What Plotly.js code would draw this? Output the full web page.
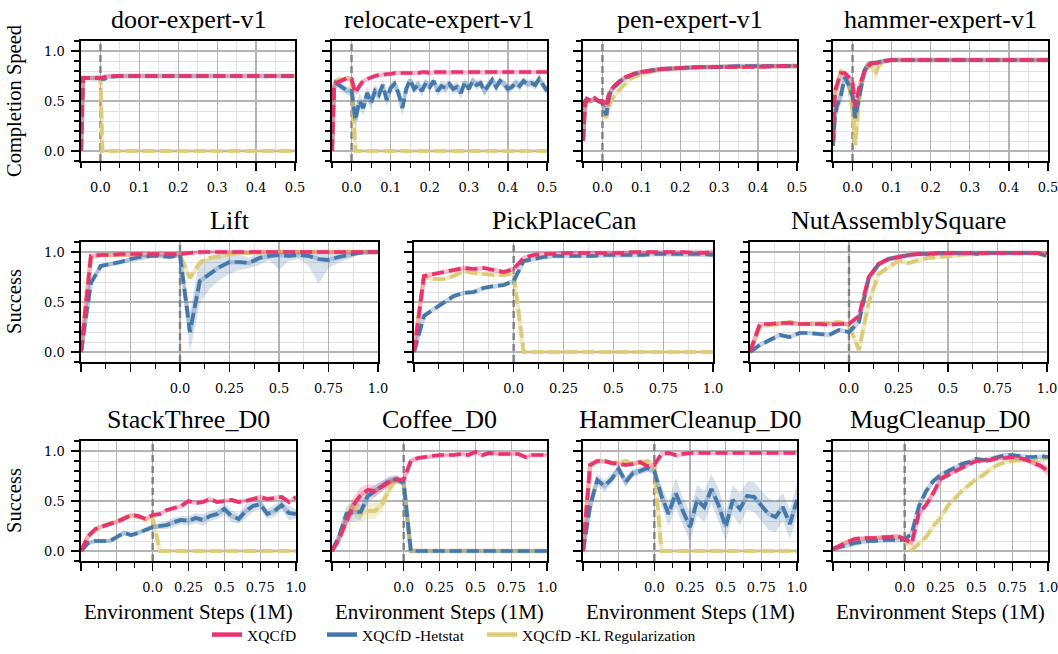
<!DOCTYPE html>
<html><head><meta charset="utf-8">
<script src="https://cdn.plot.ly/plotly-3.0.1.min.js"></script>
<style>html,body{margin:0;padding:0;background:#fff}#chart{width:1058px;height:654px}</style>
</head><body><div id="chart"></div>
<script>
// ---------------- DATA ----------------
const seriesNames = ['XQCfD', 'XQCfD -Hetstat', 'XQCfD -KL Regularization'];

// Top row (Adroit) x values, in 1M environment steps
const xDoor = [-0.05,-0.045,-0.03,-0.01,0,0.005,0.01,0.02,0.05,0.1,0.2,0.3,0.4,0.5];
const doorXQ  = [0,0.73,0.73,0.73,0.73,0.73,0.74,0.75,0.75,0.75,0.75,0.75,0.75,0.75];
const doorHet = [0,0.73,0.73,0.73,0.73,0.72,0.72,0.74,0.75,0.75,0.75,0.75,0.75,0.75];
const doorKL  = [0,0.73,0.73,0.73,0.73,0,0,0,0,0,0,0,0,0];

const xReloc = [-0.05,-0.045,-0.04,-0.03,-0.02,-0.01,0,
  0.01,0.02,0.03,0.04,0.05,0.06,0.07,0.08,0.09,0.10,
  0.11,0.12,0.13,0.14,0.15,0.16,0.17,0.18,0.19,0.20,
  0.21,0.22,0.23,0.24,0.25,0.26,0.27,0.28,0.29,0.30,
  0.31,0.32,0.33,0.34,0.35,0.36,0.37,0.38,0.39,0.40,
  0.41,0.42,0.43,0.44,0.45,0.46,0.47,0.48,0.49,0.50];
const relocXQ = [0,0.65,0.68,0.70,0.72,0.73,0.72,
  0.58,0.65,0.70,0.72,0.74,0.75,0.76,0.76,0.77,0.77,
  0.78,0.78,0.78,0.78,0.78,0.78,0.78,0.79,0.79,0.78,
  0.79,0.79,0.79,0.79,0.79,0.79,0.79,0.79,0.79,0.79,
  0.79,0.79,0.79,0.79,0.79,0.79,0.79,0.79,0.79,0.79,
  0.79,0.79,0.79,0.79,0.79,0.79,0.79,0.79,0.79,0.79];
const relocHet = [0,0.62,0.68,0.65,0.62,0.60,0.60,
  0.31,0.50,0.43,0.58,0.48,0.60,0.56,0.66,0.51,0.63,
  0.67,0.58,0.43,0.62,0.71,0.62,0.66,0.60,0.68,0.64,
  0.70,0.60,0.65,0.63,0.67,0.62,0.64,0.58,0.69,0.62,
  0.70,0.66,0.68,0.60,0.66,0.71,0.64,0.70,0.67,0.62,
  0.64,0.68,0.65,0.70,0.67,0.68,0.66,0.72,0.66,0.60];
const relocHetStd = [0,0.05,0.04,0.04,0.04,0.04,0.05,
  0.12,0.08,0.08,0.07,0.07,0.06,0.06,0.05,0.07,0.05,
  0.05,0.06,0.08,0.06,0.04,0.05,0.05,0.06,0.04,0.05,
  0.04,0.06,0.05,0.05,0.04,0.05,0.05,0.06,0.04,0.05,
  0.04,0.05,0.04,0.05,0.05,0.04,0.05,0.04,0.04,0.05,
  0.04,0.04,0.05,0.04,0.04,0.04,0.05,0.04,0.04,0.05];
const relocKL = [0,0.65,0.70,0.72,0.72,0.73,0.72,
  0,0,0,0,0,0,0,0,0,0, 0,0,0,0,0,0,0,0,0,0,
  0,0,0,0,0,0,0,0,0,0, 0,0,0,0,0,0,0,0,0,0, 0,0,0,0,0,0,0,0,0,0];

const xPen = [-0.05,-0.045,-0.04,-0.03,-0.02,-0.01,0,0.005,0.01,0.015,0.02,0.03,0.04,0.05,0.06,0.07,0.08,0.1,0.12,0.15,0.2,0.25,0.3,0.35,0.4,0.45,0.5];
const penXQ  = [0.1,0.45,0.52,0.50,0.53,0.50,0.50,0.47,0.45,0.55,0.60,0.65,0.69,0.72,0.74,0.76,0.77,0.79,0.80,0.82,0.83,0.84,0.84,0.84,0.84,0.85,0.85];
const penHet = [0.1,0.50,0.52,0.50,0.52,0.50,0.48,0.40,0.36,0.50,0.58,0.64,0.68,0.71,0.73,0.75,0.77,0.79,0.80,0.82,0.83,0.84,0.84,0.85,0.85,0.85,0.85];
const penKL  = [0.1,0.45,0.50,0.50,0.52,0.50,0.48,0.42,0.33,0.42,0.48,0.55,0.60,0.64,0.68,0.72,0.74,0.77,0.79,0.81,0.83,0.84,0.84,0.84,0.85,0.85,0.85];

const xHam = [-0.05,-0.045,-0.04,-0.03,-0.02,-0.01,0,0.007,0.015,0.02,0.03,0.04,0.05,0.06,0.07,0.08,0.1,0.15,0.2,0.3,0.4,0.5];
const hamXQ  = [0.1,0.60,0.66,0.78,0.78,0.74,0.68,0.44,0.60,0.68,0.79,0.85,0.88,0.88,0.89,0.90,0.91,0.91,0.91,0.91,0.91,0.91];
const hamHet = [0.05,0.35,0.45,0.55,0.74,0.66,0.55,0.33,0.50,0.60,0.80,0.87,0.88,0.88,0.89,0.90,0.91,0.91,0.91,0.91,0.91,0.91];
const hamHetStd = [0,0.1,0.1,0.08,0.05,0.06,0.08,0.08,0.1,0.08,0.05,0.03,0.02,0.02,0.02,0.01,0.01,0.01,0.01,0.01,0.01,0.01];
const hamKL  = [0.1,0.55,0.62,0.79,0.76,0.70,0.41,0.06,0.45,0.62,0.78,0.86,0.84,0.79,0.87,0.89,0.91,0.91,0.91,0.91,0.91,0.91];
const hamKLStd = [0,0.1,0.08,0.05,0.05,0.06,0.1,0.05,0.12,0.1,0.06,0.04,0.05,0.1,0.03,0.02,0.01,0.01,0.01,0.01,0.01,0.01];

// Robomimic rows: offline (-0.5..0) then online (0..1.0)
const xRobo = [-0.5,-0.45,-0.4,-0.35,-0.3,-0.25,-0.2,-0.15,-0.1,-0.05,0,
  0.05,0.1,0.15,0.2,0.25,0.3,0.35,0.4,0.45,0.5,
  0.55,0.6,0.65,0.7,0.75,0.8,0.85,0.9,0.95,1.0];

const liftXQ  = [0,0.96,0.97,0.97,0.98,0.98,0.98,0.98,0.98,0.98,0.98, 0.99,1,1,1,1,1,1,1,1,1, 1,1,1,1,1,1,1,1,1,1];
const liftHet = [0,0.69,0.86,0.88,0.90,0.93,0.95,0.96,0.96,0.95,0.97, 0.20,0.71,0.78,0.85,0.90,0.90,0.89,0.94,0.96,0.97, 0.96,0.97,0.96,0.93,0.92,0.95,0.97,0.99,1,1];
const liftHetStd = [0,0.03,0.02,0.02,0.02,0.02,0.01,0.01,0.01,0.01,0.01, 0.2,0.22,0.15,0.13,0.12,0.08,0.05,0.07,0.04,0.15, 0.05,0.04,0.1,0.25,0.08,0.06,0.04,0.02,0.01,0];
const liftKL  = [0,0.95,0.97,0.97,0.97,0.98,0.98,0.97,0.98,0.97,0.97, 0.74,0.89,0.94,0.96,0.98,0.99,0.99,1,1,1, 1,1,1,1,1,1,1,1,1,1];

const ppcXQ  = [0,0.76,0.78,0.80,0.82,0.84,0.83,0.84,0.82,0.80,0.83, 0.94,0.97,0.98,0.98,0.99,0.99,0.99,0.99,0.99,0.99, 0.99,1,1,1,1,1,1,0.99,0.99,1];
const ppcHet = [0,0.36,0.43,0.50,0.56,0.59,0.60,0.64,0.66,0.67,0.71, 0.91,0.93,0.95,0.96,0.96,0.96,0.96,0.96,0.97,0.97, 0.97,0.97,0.97,0.98,0.98,0.98,0.98,0.98,0.98,0.97];
const ppcKL  = [0,0.75,0.73,0.73,0.76,0.81,0.79,0.78,0.77,0.77,0.79, 0,0,0,0,0,0,0,0,0,0, 0,0,0,0,0,0,0,0,0,0];

const nutXQ  = [0,0.28,0.28,0.29,0.29,0.28,0.28,0.28,0.27,0.28,0.28, 0.36,0.75,0.88,0.93,0.95,0.97,0.98,0.98,0.99,0.99, 0.99,0.99,0.99,0.99,0.99,0.99,0.99,0.99,0.99,0.99];
const nutHet = [0,0.07,0.12,0.17,0.15,0.19,0.19,0.18,0.17,0.22,0.20, 0.30,0.74,0.88,0.93,0.95,0.97,0.98,0.98,0.99,0.99, 0.99,0.99,0.98,0.99,0.99,0.99,0.99,0.99,0.99,0.96];
const nutKL  = [0,0.25,0.27,0.28,0.30,0.28,0.28,0.29,0.29,0.30,0.27, 0.02,0.50,0.78,0.85,0.91,0.89,0.92,0.94,0.95,0.96, 0.97,0.98,0.98,0.99,0.99,0.99,0.99,0.99,0.99,0.99];

const stXQ  = [0,0.15,0.22,0.25,0.27,0.29,0.33,0.36,0.35,0.32,0.36, 0.37,0.41,0.43,0.45,0.50,0.48,0.49,0.52,0.49,0.50, 0.51,0.49,0.50,0.52,0.54,0.52,0.53,0.54,0.49,0.54];
const stHet = [0,0.08,0.10,0.10,0.10,0.14,0.18,0.16,0.18,0.21,0.24, 0.25,0.26,0.29,0.31,0.30,0.33,0.31,0.35,0.37,0.42, 0.35,0.32,0.40,0.45,0.47,0.37,0.40,0.46,0.38,0.37];
const stHetStd = [0,0.01,0.02,0.02,0.02,0.02,0.02,0.02,0.02,0.02,0.02, 0.03,0.04,0.05,0.04,0.05,0.05,0.06,0.05,0.05,0.06, 0.06,0.05,0.07,0.06,0.05,0.05,0.06,0.05,0.07,0.05];
const stKL  = [0,0.14,0.21,0.25,0.27,0.30,0.33,0.35,0.34,0.32,0.33, 0,0,0,0,0,0,0,0,0,0, 0,0,0,0,0,0,0,0,0,0];

const cofXQ  = [0,0.12,0.30,0.46,0.56,0.61,0.60,0.65,0.69,0.71,0.71, 0.90,0.93,0.94,0.95,0.96,0.96,0.96,0.97,0.96,0.99, 0.96,0.98,0.97,0.97,0.97,0.97,0.94,0.96,0.96,0.96];
const cofXQStd = [0,0.03,0.06,0.08,0.08,0.06,0.06,0.05,0.05,0.04,0.03, 0.02,0.01,0.01,0.01,0.01,0.01,0.01,0.01,0.01,0.01, 0.01,0.01,0.01,0.01,0.01,0.01,0.01,0.01,0.01,0.01];
const cofHet = [0,0.15,0.37,0.39,0.39,0.55,0.60,0.65,0.70,0.72,0.68, 0,0,0,0,0,0,0,0,0,0, 0,0,0,0,0,0,0,0,0,0];
const cofHetStd = [0,0.04,0.08,0.1,0.08,0.07,0.06,0.05,0.05,0.04,0.03, 0,0,0,0,0,0,0,0,0,0, 0,0,0,0,0,0,0,0,0,0];
const cofKL  = [0,0.12,0.33,0.45,0.37,0.40,0.40,0.47,0.62,0.72,0.68, 0,0,0,0,0,0,0,0,0,0, 0,0,0,0,0,0,0,0,0,0];
const cofKLStd = [0,0.03,0.07,0.09,0.08,0.08,0.08,0.07,0.06,0.04,0.03, 0,0,0,0,0,0,0,0,0,0, 0,0,0,0,0,0,0,0,0,0];

const hcXQ  = [0,0.86,0.90,0.90,0.88,0.87,0.86,0.87,0.89,0.85,0.86, 0.97,0.98,0.96,0.97,0.98,0.98,0.98,0.98,0.98,0.98, 0.98,0.98,0.98,0.98,0.98,0.98,0.98,0.98,0.98,0.98];
const hcHet = [0,0.45,0.71,0.65,0.72,0.82,0.69,0.78,0.80,0.83,0.80, 0.55,0.37,0.58,0.40,0.24,0.51,0.44,0.62,0.46,0.24, 0.51,0.42,0.55,0.54,0.45,0.37,0.34,0.44,0.27,0.51];
const hcHetStd = [0,0.1,0.06,0.06,0.05,0.05,0.05,0.04,0.04,0.04,0.04, 0.1,0.12,0.15,0.14,0.15,0.15,0.16,0.15,0.16,0.15, 0.15,0.16,0.14,0.15,0.15,0.16,0.15,0.14,0.15,0.16];
const hcKL  = [0,0.85,0.90,0.90,0.88,0.89,0.90,0.87,0.88,0.90,0.86, 0,0,0,0,0,0,0,0,0,0, 0,0,0,0,0,0,0,0,0,0];

const mugXQ  = [0.02,0.06,0.09,0.12,0.13,0.13,0.13,0.14,0.14,0.15,0.12, 0.08,0.38,0.46,0.58,0.72,0.76,0.80,0.83,0.87,0.90, 0.90,0.91,0.93,0.93,0.94,0.93,0.91,0.88,0.85,0.80];
const mugXQStd = [0.01,0.01,0.01,0.01,0.01,0.01,0.01,0.01,0.01,0.01,0.01, 0.02,0.03,0.03,0.03,0.03,0.02,0.02,0.02,0.02,0.02, 0.02,0.02,0.02,0.02,0.02,0.02,0.02,0.03,0.04,0.06];
const mugHet = [0.02,0.04,0.06,0.08,0.09,0.10,0.10,0.11,0.11,0.11,0.11, 0.18,0.45,0.60,0.70,0.76,0.80,0.84,0.87,0.89,0.92, 0.91,0.92,0.94,0.96,0.96,0.95,0.94,0.94,0.95,0.94];
const mugKL  = [0.02,0.06,0.09,0.11,0.12,0.13,0.13,0.13,0.13,0.14,0.11, 0.01,0.08,0.14,0.25,0.33,0.45,0.53,0.60,0.66,0.72, 0.76,0.82,0.86,0.89,0.90,0.91,0.91,0.90,0.92,0.93];

// Tick labels
const topTickVals = [0,0.1,0.2,0.3,0.4,0.5];
const topTickText = ['0.0','0.1','0.2','0.3','0.4','0.5'];
const roboTickVals = [-0.5,-0.25,0,0.25,0.5,0.75,1.0];
const roboTickText = ['','','0.0','0.25','0.5','0.75','1.0'];
const yTickVals = [0,0.5,1.0];
const yTickText = ['0.0','0.5','1.0'];
const switchStep = 0;   // offline -> online switch

// ---------------- LAYOUT / DRAW ----------------
const W = 1058, H = 654;
const COL = {xq:'#E8336D', het:'#4477AA', kl:'#DDCC77'};
const FILL = {xq:'rgba(232,51,109,0.22)', het:'rgba(68,119,170,0.22)', kl:'rgba(221,204,119,0.32)'};
const UNDER = {xq:'rgba(232,51,109,0.30)', het:'rgba(68,119,170,0.30)', kl:'rgba(221,204,119,0.40)'};
const rowsY = [[41,161],[242,362],[441,561]];
const YR = [-0.1, 1.1];

const panels = [
  {title:'door-expert-v1', row:0, px:[81,295], x:xDoor, s:{xq:doorXQ, het:doorHet, kl:doorKL}, sd:{}, ylab:'Completion Speed'},
  {title:'relocate-expert-v1', row:0, px:[332,547], x:xReloc, s:{xq:relocXQ, het:relocHet, kl:relocKL}, sd:{het:relocHetStd}},
  {title:'pen-expert-v1', row:0, px:[583,797], x:xPen, s:{xq:penXQ, het:penHet, kl:penKL}, sd:{}},
  {title:'hammer-expert-v1', row:0, px:[833,1048], x:xHam, s:{xq:hamXQ, het:hamHet, kl:hamKL}, sd:{het:hamHetStd, kl:hamKLStd}},
  {title:'Lift', row:1, px:[81,378], x:xRobo, s:{xq:liftXQ, het:liftHet, kl:liftKL}, sd:{het:liftHetStd}, ylab:'Success'},
  {title:'PickPlaceCan', row:1, px:[414,713], x:xRobo, s:{xq:ppcXQ, het:ppcHet, kl:ppcKL}, sd:{}},
  {title:'NutAssemblySquare', row:1, px:[750,1047], x:xRobo, s:{xq:nutXQ, het:nutHet, kl:nutKL}, sd:{}},
  {title:'StackThree_D0', row:2, px:[81,296], x:xRobo, s:{xq:stXQ, het:stHet, kl:stKL}, sd:{het:stHetStd}, ylab:'Success', xlab:true},
  {title:'Coffee_D0', row:2, px:[332,547], x:xRobo, s:{xq:cofXQ, het:cofHet, kl:cofKL}, sd:{xq:cofXQStd, het:cofHetStd, kl:cofKLStd}, xlab:true},
  {title:'HammerCleanup_D0', row:2, px:[583,797], x:xRobo, s:{xq:hcXQ, het:hcHet, kl:hcKL}, sd:{het:hcHetStd}, xlab:true},
  {title:'MugCleanup_D0', row:2, px:[833,1048], x:xRobo, s:{xq:mugXQ, het:mugHet, kl:mugKL}, sd:{xq:mugXQStd}, xlab:true}
];

const tickFont = {family:'DejaVu Serif', size:13, color:'#000'};
const serif = 'Liberation Serif';
const traces = [], shapes = [], annotations = [];
const layout = {
  width:W, height:H, margin:{l:0,r:0,t:0,b:0},
  paper_bgcolor:'#fff', plot_bgcolor:'#fff',
  font:{family:serif, color:'#000'},
  showlegend:true,
  legend:{orientation:'h', x:207/W, xanchor:'left', y:1-635/H, yanchor:'middle',
          font:{family:serif, size:15.5, color:'#000'}, bgcolor:'rgba(0,0,0,0)', itemwidth:30, tracegroupgap:0},
  shapes, annotations
};

panels.forEach((p, i) => {
  const n = i + 1, sfx = n === 1 ? '' : String(n);
  const xa = 'x' + sfx, ya = 'y' + sfx;
  const top = p.row === 0;
  const [y0, y1] = rowsY[p.row];
  layout['xaxis' + sfx] = {
    domain:[p.px[0]/W, p.px[1]/W], anchor:ya,
    range: top ? [-0.05, 0.5] : [-0.5, 1.0],
    tickmode:'array', tickvals: top ? topTickVals : roboTickVals, ticktext: top ? topTickText : roboTickText,
    ticks:'outside', ticklen:8, tickwidth:1.3, tickcolor:'#000', ticklabelstandoff:6, ticklabeloverflow:'allow',
    tickfont:tickFont,
    showline:true, linecolor:'#000', linewidth:1.6, mirror:true,
    showgrid:true, gridcolor:'#b4b4b4', gridwidth:1.3, zeroline:false,
    minor:{dtick: top ? 0.05 : 0.125, tick0:0, ticks:'outside', ticklen:5, tickwidth:1.1, tickcolor:'#000',
           showgrid:true, gridcolor:'#e2e2e2', gridwidth:1},
    fixedrange:true
  };
  layout['yaxis' + sfx] = {
    domain:[1 - y1/H, 1 - y0/H], anchor:xa,
    range:YR,
    tickmode:'array', tickvals:yTickVals, ticktext:yTickText, showticklabels: !!p.ylab,
    ticks:'outside', ticklen:8, tickwidth:1.3, tickcolor:'#000', ticklabelstandoff:4, ticklabeloverflow:'allow',
    tickfont:tickFont,
    showline:true, linecolor:'#000', linewidth:1.6, mirror:true,
    showgrid:true, gridcolor:'#b4b4b4', gridwidth:1.3, zeroline:false,
    minor:{dtick:0.1, tick0:0, ticks:'outside', ticklen:5, tickwidth:1.1, tickcolor:'#000',
           showgrid:true, gridcolor:'#e2e2e2', gridwidth:1},
    fixedrange:true
  };
  // dashed vertical line at the offline->online switch
  shapes.push({type:'line', xref:xa, yref:ya, x0:switchStep, x1:switchStep, y0:YR[0], y1:YR[1], layer:'between',
               line:{color:'#808080', width:2.4, dash:'7px,4px'}});
  // bands
  ['kl','het','xq'].forEach(k => {
    const sd = p.sd[k];
    if (!sd) return;
    const y = p.s[k];
    const hi = y.map((v, j) => Math.min(1, v + sd[j]));
    const lo = y.map((v, j) => Math.max(0, v - sd[j]));
    traces.push({type:'scatter', mode:'lines', xaxis:xa, yaxis:ya, showlegend:false, hoverinfo:'skip',
      x: p.x.concat(p.x.slice().reverse()), y: hi.concat(lo.slice().reverse()),
      fill:'toself', fillcolor:FILL[k], line:{width:0}});
  });
  // lines
  ['kl','het','xq'].forEach(k => {
    traces.push({type:'scatter', mode:'lines', xaxis:xa, yaxis:ya, showlegend:false, hoverinfo:'skip',
      x:p.x, y:p.s[k], line:{color:UNDER[k], width:4.5}});
    traces.push({type:'scatter', mode:'lines', xaxis:xa, yaxis:ya, showlegend:false, hoverinfo:'skip',
      x:p.x, y:p.s[k], line:{color:COL[k], width:3.7, dash:'12px,5px'}});
  });
  // panel title
  annotations.push({xref:'paper', yref:'paper', x:(p.px[0]+p.px[1])/2/W, y:1 - (y0 - 22)/H,
    xanchor:'center', yanchor:'middle', showarrow:false, text:p.title,
    font:{family:serif, size:26, color:'#000'}});
  if (p.ylab) {
    annotations.push({xref:'paper', yref:'paper', x:14/W, y:1 - (y0 + y1)/2/H, xanchor:'center', yanchor:'middle',
      showarrow:false, textangle:-90, text:p.ylab, font:{family:serif, size:20.5, color:'#000'}});
  }
  if (p.xlab) {
    annotations.push({xref:'paper', yref:'paper', x:(p.px[0]+p.px[1])/2/W, y:1 - 612/H, xanchor:'center', yanchor:'middle',
      showarrow:false, text:'Environment Steps (1M)', font:{family:serif, size:21, color:'#000'}});
  }
});

// legend entries (solid samples, as in the reference legend)
const legendWidths = [70, 115, 170];
['xq','het','kl'].forEach((k, i) => {
  traces.push({type:'scatter', mode:'lines', xaxis:'x', yaxis:'y', x:[null], y:[null], name:seriesNames[i],
    showlegend:true, legendwidth:legendWidths[i], line:{color:COL[k], width:4.5}});
});

Plotly.newPlot('chart', traces, layout, {staticPlot:true, displayModeBar:false});
</script>
</body></html>
